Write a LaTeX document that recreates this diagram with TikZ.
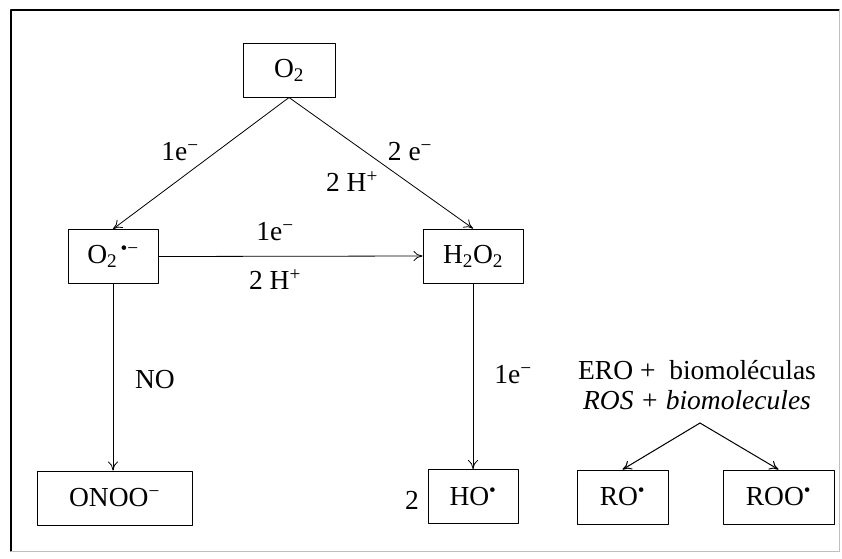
\documentclass[tikz,border=0pt]{standalone}
\usepackage{fontspec}
\setmainfont{Liberation Serif}
\usetikzlibrary{arrows.meta}
\begin{document}
\begin{tikzpicture}[x=1pt,y=-1pt,font=\fontsize{27.5}{31}\selectfont,line cap=round,line join=round,
  species/.style={draw,line width=1pt,inner sep=0pt,minimum height=54pt},
  react/.style={line width=0.8pt,-{To[length=9pt,width=10pt]}},
  lbl/.style={inner sep=1pt}]
  \useasboundingbox (0,0) rectangle (842,558);

  % outer frame of the scanned figure
  \draw[line width=1.8pt] (11,551)--(11,10)--(839,10);
  \draw[line width=0.5pt,black!25] (839,10)--(839,551)--(11,551);

  % species boxes
  \node[species,minimum width=92pt] (o2) at (289,70) {O\textsubscript{2}};
  \node[species,minimum width=90pt] (sox) at (113,256.5) {O\textsubscript{2}\textsuperscript{\,•−}};
  \node[species,minimum width=100pt] (h2o2) at (473,256) {H\textsubscript{2}O\textsubscript{2}};
  \node[species,minimum width=155pt] (onoo) at (114.5,498) {ONOO\textsuperscript{−}};
  \node[species,minimum width=90pt] (ho) at (473,496.5) {HO\textsuperscript{•}};
  \node[species,minimum width=91pt] (ro) at (622.5,497) {RO\textsuperscript{•}};
  \node[species,minimum width=111pt] (roo) at (778.5,497) {ROO\textsuperscript{•}};

  % reactions
  \draw[react] (o2.south)--(sox.north);
  \draw[react] (o2.south)--(h2o2.north);
  \draw[react] (sox.east)--(h2o2.west);
  \draw[react] (sox.south)--(sox.south |- onoo.north);
  \draw[react] (h2o2.south)--(ho.north);

  \node[lbl] (e1) at (180,152) {1e\textsuperscript{−}};
  \node[lbl] (e2) at (410,152) {2 e\textsuperscript{−}};
  \node[lbl] (hp1) at (352,182) {2 H\textsuperscript{+}};
  \node[lbl] (e3) at (275,232) {1e\textsuperscript{−}};
  \node[lbl] (hp2) at (275,280) {2 H\textsuperscript{+}};
  \node[lbl] (no) at (155,380) {NO};
  \node[lbl] (e4) at (513,375) {1e\textsuperscript{−}};
  \node[lbl] (two) at (412,500) {2};

  % lipid radicals
  \node[lbl] (ero) at (697,370) {ERO + \ biomoléculas};
  \node[lbl] (ros) at (697,400) {\itshape ROS + biomolecules};
  \coordinate (fork) at (700,423);
  \draw[react,line width=1pt] (fork)--(ro.north);
  \draw[react,line width=1pt] (fork)--(roo.north);
\end{tikzpicture}
\end{document}
